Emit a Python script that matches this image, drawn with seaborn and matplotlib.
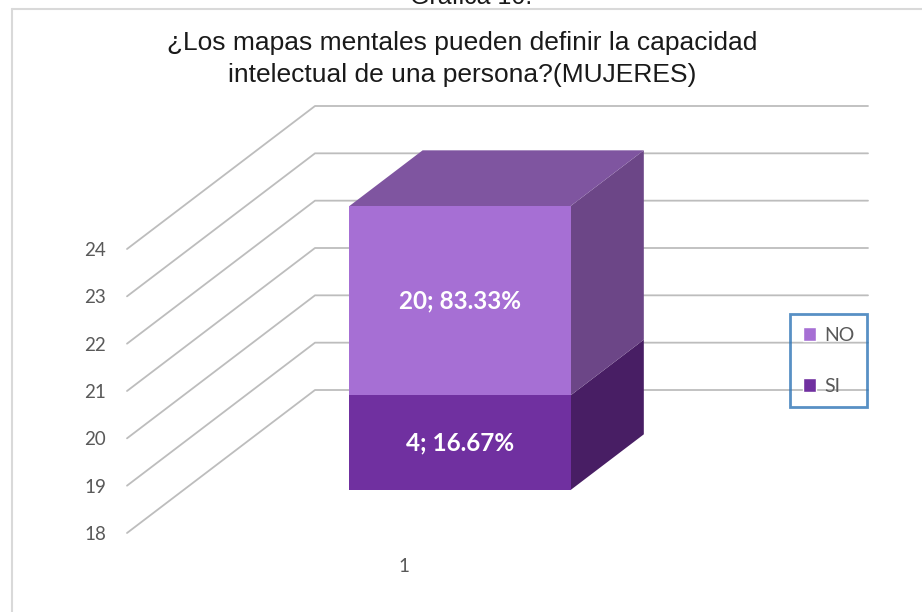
import matplotlib
matplotlib.use('Agg')
import matplotlib.pyplot as plt
from matplotlib.patches import Patch
import seaborn as sns

# chart data
categories = ['1']
series = ['SI', 'NO']
counts = [4, 20]
percents = ['16.67%', '83.33%']
# tops of the stacked segments as they appear on the 18-24 axis
visible_tops = [20, 24]
y_ticks = [18, 19, 20, 21, 22, 23, 24]

front_colors = ['#7030a0', '#a66fd4']
side_colors = ['#481e64', '#6c4687']
top_color = '#7f55a0'
grid_color = '#bdbdbd'
text_gray = '#595959'

sns.set_theme(style='white')
plt.rcParams['font.family'] = ['Lato', 'DejaVu Sans']

W, H = 922, 612
fig = plt.figure(figsize=(W / 100, H / 100), dpi=100)
fig.patch.set_facecolor('white')

# front plane of the 3d box: x 0..1, values 18..24
ax = fig.add_axes([127 / W, 79 / H, 553 / W, 284 / H])
ax.set_xlim(0, 1)
ax.set_ylim(y_ticks[0], y_ticks[-1])
ax.set_facecolor('none')
for s in ax.spines.values():
    s.set_visible(False)

DX, DY = 188, 143  # depth offset in pixels


def proj(x, v, d):
    px, py = ax.transData.transform((x, v))
    return ax.transData.inverted().transform((px + DX * d, py + DY * d))


# side wall + back wall gridlines
for v in y_ticks:
    pts = [proj(0, v, 0), proj(0, v, 1), proj(1, v, 1)]
    ax.plot([p[0] for p in pts], [p[1] for p in pts], color=grid_color,
            lw=1.3, clip_on=False, zorder=1)

# the 3d stacked bar
x0, x1 = 0.3, 0.7
d0, d1 = 0.3, 0.69
bottom = y_ticks[0]
for i, top in enumerate(visible_tops):
    front = [proj(x0, bottom, d0), proj(x1, bottom, d0), proj(x1, top, d0), proj(x0, top, d0)]
    side = [proj(x1, bottom, d0), proj(x1, bottom, d1), proj(x1, top, d1), proj(x1, top, d0)]
    ax.fill([p[0] for p in side], [p[1] for p in side], color=side_colors[i],
            lw=0, clip_on=False, zorder=3)
    ax.fill([p[0] for p in front], [p[1] for p in front], color=front_colors[i],
            lw=0, clip_on=False, zorder=4)
    c = proj(0.5, (bottom + top) / 2, d0)
    ax.text(c[0], c[1], f'{counts[i]}; {percents[i]}', color='white',
            fontsize=17.5, fontweight='bold', ha='center', va='center', zorder=5)
    bottom = top

topf = [proj(x0, bottom, d0), proj(x1, bottom, d0), proj(x1, bottom, d1), proj(x0, bottom, d1)]
ax.fill([p[0] for p in topf], [p[1] for p in topf], color=top_color,
        lw=0, clip_on=False, zorder=3)

ax.set_yticks(y_ticks)
ax.set_xticks([0.5])
ax.set_xticklabels(categories)
ax.tick_params(axis='y', length=0, pad=15, labelsize=13.5, labelcolor=text_gray)
ax.tick_params(axis='x', length=0, pad=18, labelsize=13.5, labelcolor=text_gray)
ax.grid(False)

# legend (NO above SI)
handles = [Patch(facecolor=front_colors[1], label=series[1]),
           Patch(facecolor=front_colors[0], label=series[0])]
leg = fig.legend(handles=handles, loc='upper right',
                 bbox_to_anchor=(867 / W, 1 - 314 / H), frameon=True,
                 fancybox=False, fontsize=14, labelcolor=text_gray,
                 handlelength=0.7, handleheight=0.7, handletextpad=0.4,
                 labelspacing=1.75, borderpad=0.65, borderaxespad=0)
leg.get_frame().set_edgecolor('#2e75b6')
leg.get_frame().set_linewidth(2)
leg.get_frame().set_facecolor('none')

# titles
fig.text(462 / W, 1 - 59 / H,
         '¿Los mapas mentales pueden definir la capacidad\nintelectual de una persona?(MUJERES)',
         ha='center', va='center', fontsize=19, family='Liberation Sans',
         color='#1a1a1a', linespacing=1.42)
fig.text(471 / W, 1 - 4 / H, 'Gráfica 10:', ha='center', va='baseline',
         fontsize=18, family='Liberation Sans', color='#1a1a1a')

# chart border
fig.add_artist(plt.Line2D([12 / W, 1], [1 - 9 / H, 1 - 9 / H],
                          transform=fig.transFigure, color='#d9d9d9', lw=1.5))
fig.add_artist(plt.Line2D([12 / W, 12 / W], [0, 1 - 9 / H],
                          transform=fig.transFigure, color='#d9d9d9', lw=1.5))

fig.savefig('out.png', dpi=100)
